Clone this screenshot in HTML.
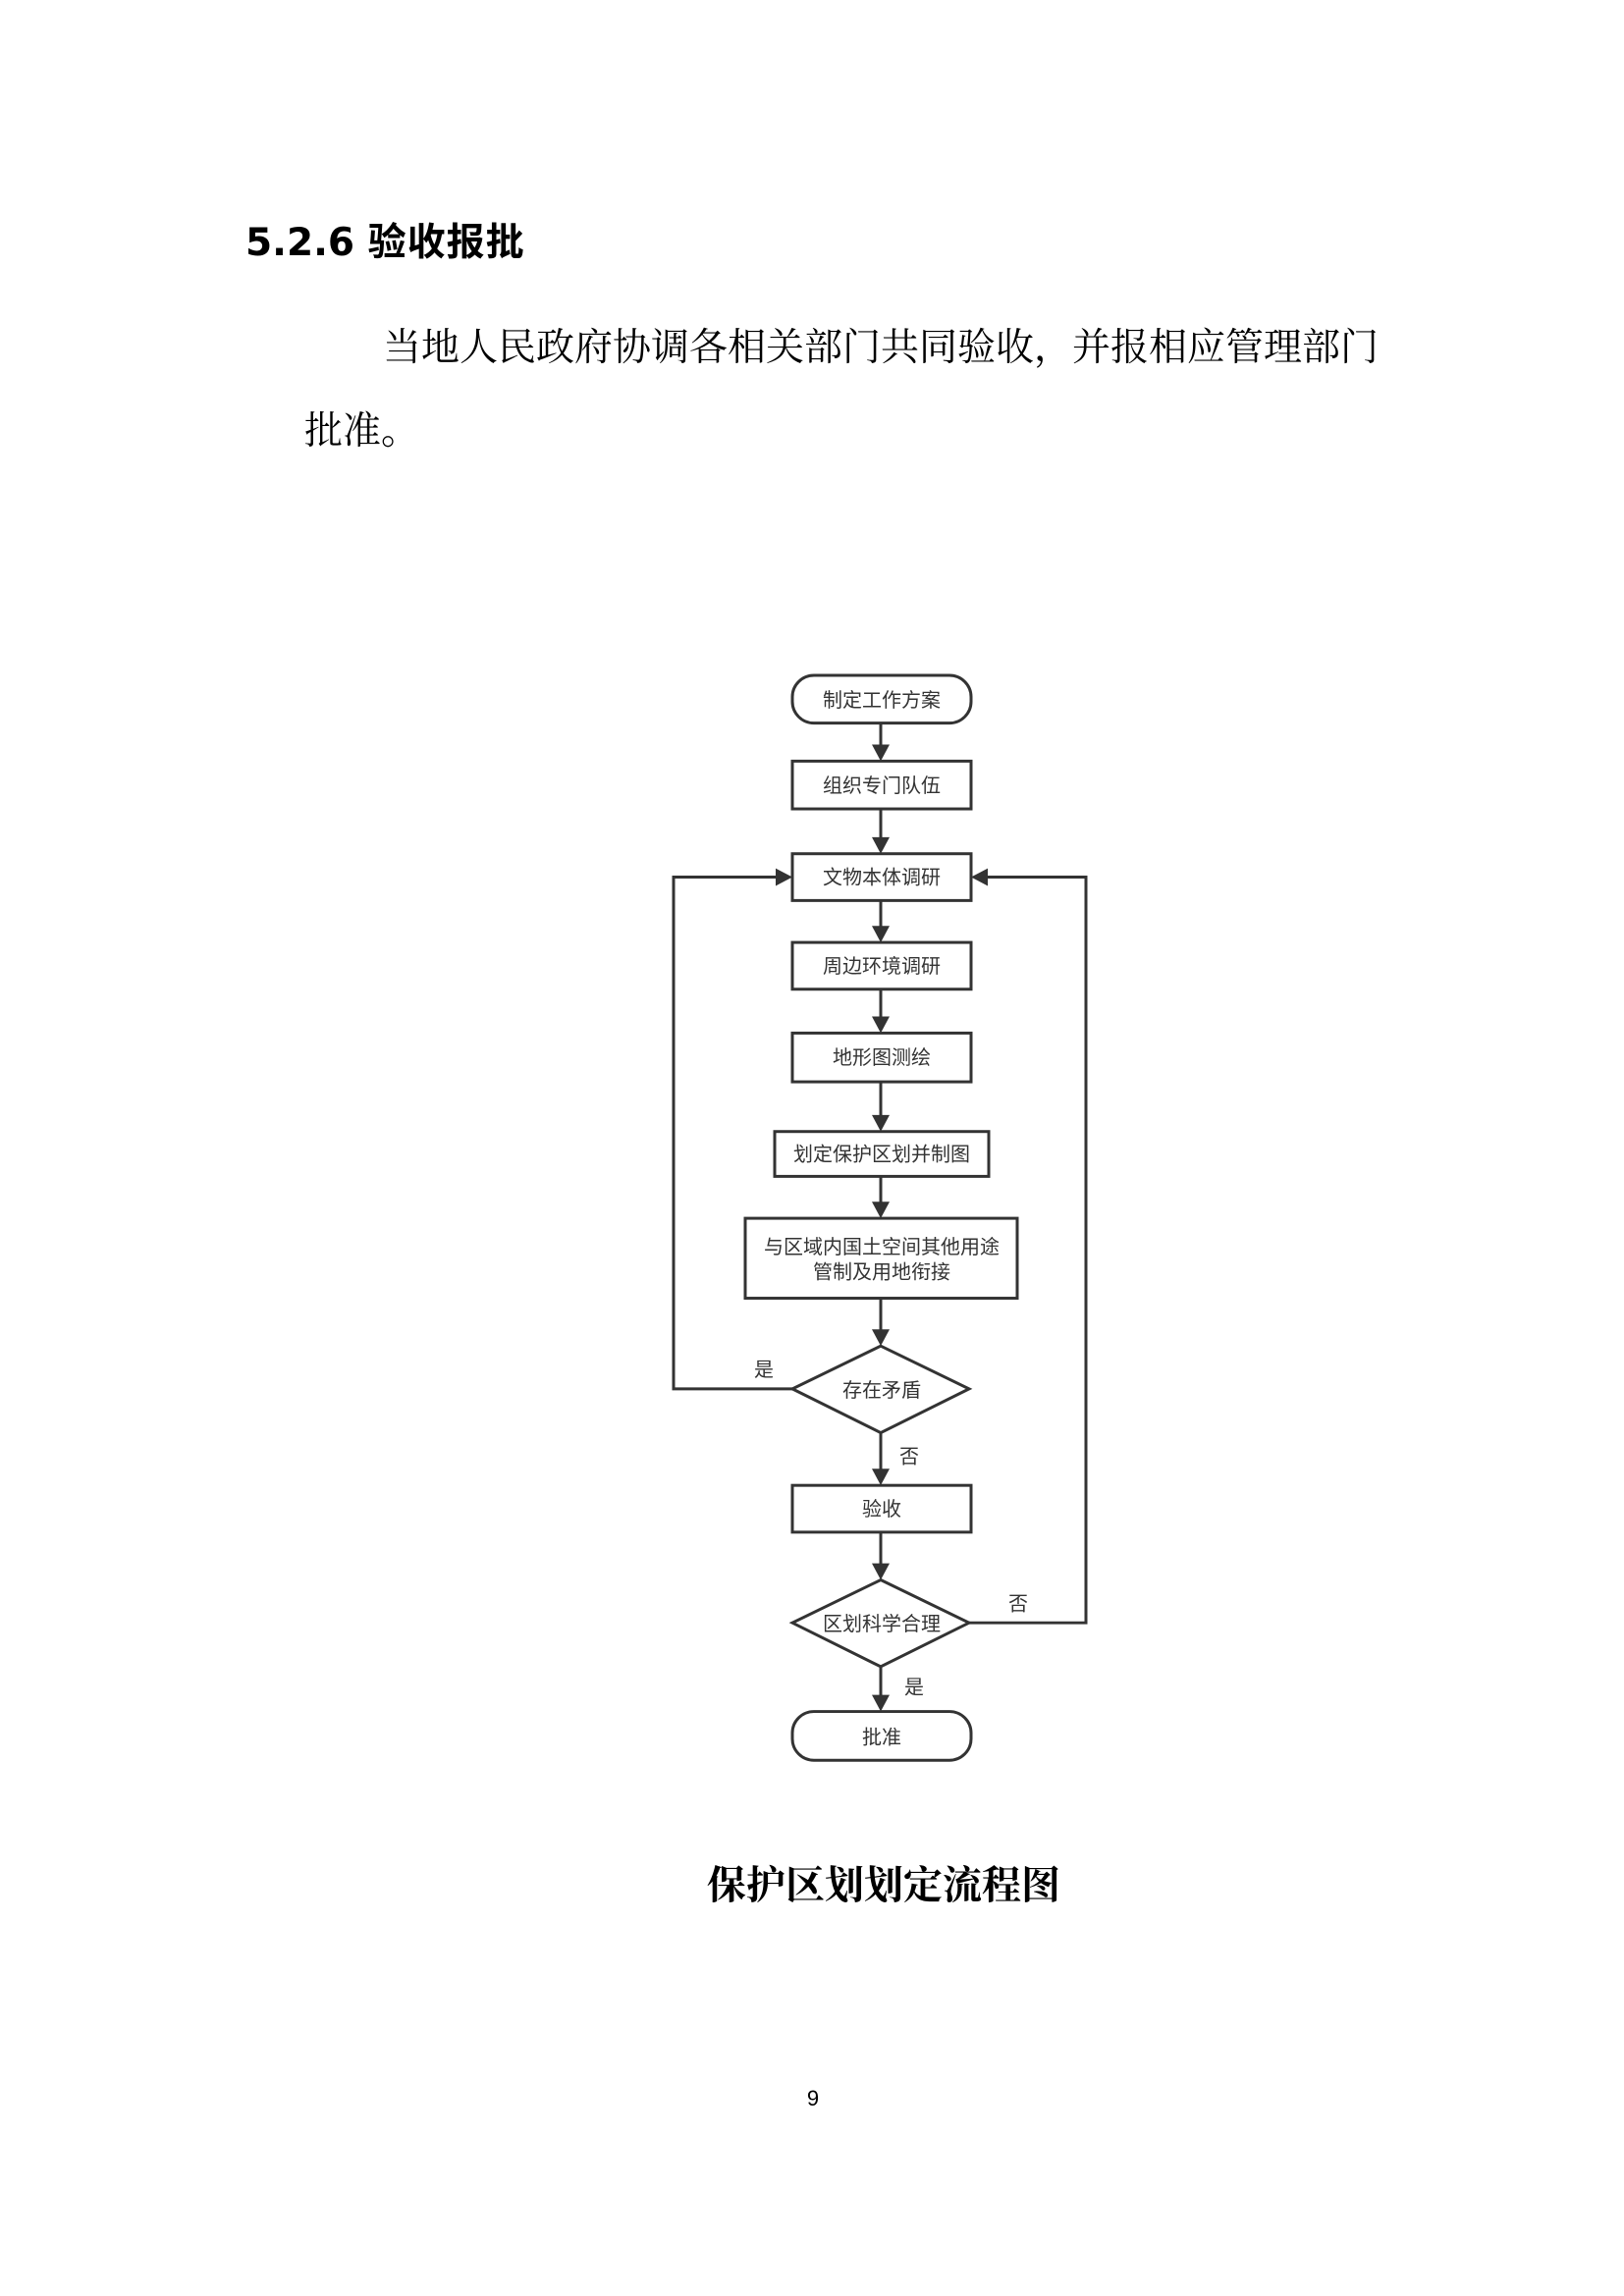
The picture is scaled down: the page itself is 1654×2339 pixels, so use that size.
<!DOCTYPE html>
<html><head><meta charset="utf-8">
<style>
html,body{margin:0;padding:0;background:#fff;}
body{width:1654px;height:2339px;position:relative;overflow:hidden;font-family:"Liberation Sans","Noto Sans CJK SC",sans-serif;color:#000;}
.t{position:absolute;white-space:nowrap;}
</style></head><body>
<div class="t" style="left:250px;top:219px;font-size:39px;font-weight:bold;line-height:50px;font-family:'DejaVu Sans','Noto Sans CJK SC',sans-serif;">5.2.6 <span style="font-weight:normal;font-family:'Noto Sans CJK SC',sans-serif;font-weight:bold;letter-spacing:1px;">验收报批</span></div>
<div class="t" style="left:390px;top:330px;font-size:39px;line-height:50px;font-family:'Liberation Serif','Noto Serif CJK SC',serif;">当地人民政府协调各相关部门共同验收，并报相应管理部门</div>
<div class="t" style="left:310px;top:415px;font-size:39px;line-height:50px;font-family:'Liberation Serif','Noto Serif CJK SC',serif;">批准。</div>

<svg width="1654" height="2339" style="position:absolute;left:0;top:0" xmlns="http://www.w3.org/2000/svg">
<g transform="translate(-4,-5) translate(901,693) scale(1,0.993) translate(-901,-693)">
<g fill="#fff" stroke="#333" stroke-width="3">
<rect x="811" y="693" width="182" height="49" rx="22"/>
<rect x="811" y="781" width="182" height="49"/>
<rect x="811" y="876" width="182" height="48"/>
<rect x="811" y="967" width="182" height="48"/>
<rect x="811" y="1060" width="182" height="50"/>
<rect x="793" y="1161" width="218" height="46"/>
<rect x="763" y="1250" width="277" height="82"/>
<polygon points="901,1381 991,1425 901,1470 811,1425"/>
<rect x="811" y="1524" width="182" height="48"/>
<polygon points="901,1621 991,1665 901,1710 811,1665"/>
<rect x="811" y="1756" width="182" height="50" rx="22"/>
</g>
<g stroke="#333" stroke-width="3" fill="none">
<line x1="901" y1="742" x2="901" y2="765"/>
<line x1="901" y1="830" x2="901" y2="860"/>
<line x1="901" y1="924" x2="901" y2="951"/>
<line x1="901" y1="1015" x2="901" y2="1044"/>
<line x1="901" y1="1110" x2="901" y2="1145"/>
<line x1="901" y1="1207" x2="901" y2="1234"/>
<line x1="901" y1="1332" x2="901" y2="1365"/>
<line x1="901" y1="1470" x2="901" y2="1508"/>
<line x1="901" y1="1572" x2="901" y2="1605"/>
<line x1="901" y1="1710" x2="901" y2="1740"/>
<polyline points="811,1425 690,1425 690,900 795,900"/>
<polyline points="991,1665 1110,1665 1110,900 1009,900"/>
</g>
<g fill="#333">
<polygon points="892,764 910,764 901,781"/>
<polygon points="892,859 910,859 901,876"/>
<polygon points="892,950 910,950 901,967"/>
<polygon points="892,1043 910,1043 901,1060"/>
<polygon points="892,1144 910,1144 901,1161"/>
<polygon points="892,1233 910,1233 901,1250"/>
<polygon points="892,1364 910,1364 901,1381"/>
<polygon points="892,1507 910,1507 901,1524"/>
<polygon points="892,1604 910,1604 901,1621"/>
<polygon points="892,1739 910,1739 901,1756"/>
<polygon points="794,891 794,909 811,900"/>
<polygon points="1010,891 1010,909 993,900"/>
</g>
<g font-family="Liberation Sans, Noto Sans CJK SC, sans-serif" font-size="20" fill="#333" text-anchor="middle">
<text x="902" y="725">制定工作方案</text>
<text x="902" y="813">组织专门队伍</text>
<text x="902" y="907">文物本体调研</text>
<text x="902" y="998">周边环境调研</text>
<text x="902" y="1092">地形图测绘</text>
<text x="902" y="1191">划定保护区划并制图</text>
<text x="902" y="1286">与区域内国土空间其他用途</text>
<text x="902" y="1312">管制及用地衔接</text>
<text x="902" y="1433">存在矛盾</text>
<text x="902" y="1555">验收</text>
<text x="902" y="1673">区划科学合理</text>
<text x="902" y="1789">批准</text>
<text x="782" y="1412">是</text>
<text x="930" y="1501">否</text>
<text x="1041" y="1652">否</text>
<text x="935" y="1738">是</text>
</g>
</g>
</svg>

<div class="t" style="left:0;width:1800px;top:1896px;text-align:center;font-size:40px;line-height:50px;font-family:'Liberation Serif','Noto Serif CJK SC',serif;font-weight:bold;">保护区划划定流程图</div>
<div class="t" style="left:0;width:1656px;top:2123px;text-align:center;font-size:22px;line-height:30px;">9</div>
</body></html>
